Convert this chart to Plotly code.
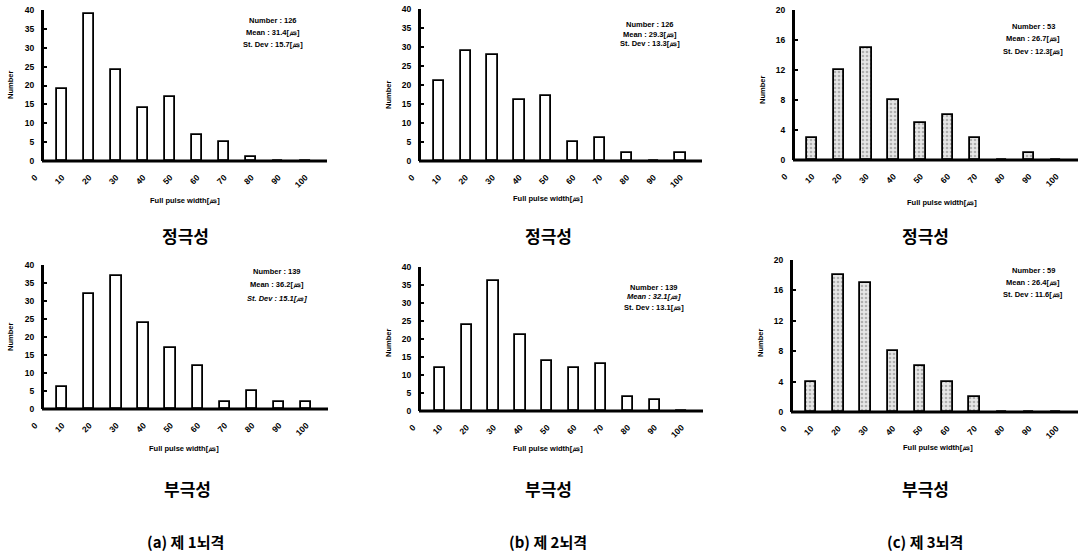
import plotly.graph_objects as go

W, H = 1078, 552

# ---------------- data ----------------
widths = [10, 20, 30, 40, 50, 60, 70, 80, 90, 100]
tick_labels = ["0", "10", "20", "30", "40", "50", "60", "70", "80", "90", "100"]

pos_first = [19, 39, 24, 14, 17, 7, 5, 1, 0, 0]
pos_second = [21, 29, 28, 16, 17, 5, 6, 2, 0, 2]
pos_third = [3, 12, 15, 8, 5, 6, 3, 0, 1, 0]
neg_first = [6, 32, 37, 24, 17, 12, 2, 5, 2, 2]
neg_second = [12, 24, 36, 21, 14, 12, 13, 4, 3, 0]
neg_third = [4, 18, 17, 8, 6, 4, 2, 0, 0, 0]

stats_pos = [
    ["Number : 126", "Mean : 31.4[㎲]", "St. Dev : 15.7[㎲]"],
    ["Number : 126", "Mean : 29.3[㎲]", "St. Dev : 13.3[㎲]"],
    ["Number : 53", "Mean : 26.7[㎲]", "St. Dev : 12.3[㎲]"],
]
stats_neg = [
    ["Number : 139", "Mean : 36.2[㎲]", "<i>St. Dev : 15.1[㎲]</i>"],
    ["Number : 139", "<i>Mean : 32.1[㎲]</i>", "St. Dev : 13.1[㎲]"],
    ["Number : 59", "Mean : 26.4[㎲]", "St. Dev : 11.6[㎲]"],
]
polarity = ["정극성", "부극성"]
captions = ["(a) 제 1뇌격", "(b) 제 2뇌격", "(c) 제 3뇌격"]
x_title = "Full pulse width[㎲]"
y_title = "Number"

# ---------------- layout helpers ----------------
def px(x):
    return x / W

def py(y):
    return 1 - y / H

panels = [
    dict(vals=pos_first, x0=35, x1=327, ax=42, top=10, base=161, ymax=40, dt=5,
         stats=stats_pos[0], sx=273, sy=[20, 32, 44], nx=10, ny=85, tx=185, ty=201, grey=False),
    dict(vals=pos_second, x0=412, x1=702, ax=419, top=9, base=161, ymax=40, dt=5,
         stats=stats_pos[1], sx=650, sy=[25, 34, 43], nx=388, ny=95, tx=548, ty=199, grey=False),
    dict(vals=pos_third, x0=785, x1=1078, ax=793, top=10, base=160, ymax=20, dt=4,
         stats=stats_pos[2], sx=1033, sy=[27, 39, 52], nx=762, ny=90, tx=942, ty=202, grey=True),
    dict(vals=neg_first, x0=35, x1=328, ax=42, top=265, base=409, ymax=40, dt=5,
         stats=stats_neg[0], sx=277, sy=[271, 284, 298], nx=10, ny=337, tx=184, ty=448, grey=False),
    dict(vals=neg_second, x0=413, x1=703, ax=419, top=267, base=411, ymax=40, dt=5,
         stats=stats_neg[1], sx=654, sy=[287, 297, 307], nx=388, ny=343, tx=548, ty=448, grey=False),
    dict(vals=neg_third, x0=784, x1=1078, ax=791, top=260, base=412, ymax=20, dt=4,
         stats=stats_neg[2], sx=1033, sy=[270, 283, 294], nx=760, ny=343, tx=938, ty=447, grey=True),
]

FAM = "Liberation Sans, Arial, sans-serif"
TICKFONT = dict(family=FAM, size=8.5, color="black", weight="bold")
SMALL = dict(family=FAM, size=7.5, color="black", weight="bold")

fig = go.Figure()
layout = dict(width=W, height=H, margin=dict(l=0, r=0, t=0, b=0, pad=0),
              paper_bgcolor="white", plot_bgcolor="white", showlegend=False,
              bargap=0.0)
annotations = []
shapes = []

for i, p in enumerate(panels):
    n = "" if i == 0 else str(i + 1)
    xa, ya = "x" + n, "y" + n
    if p["grey"]:
        marker = dict(color="#dcdcdc", line=dict(color="black", width=1.8),
                      pattern=dict(shape=".", fgcolor="#777777", bgcolor="#e6e6e6",
                                   size=4, solidity=0.35))
    else:
        marker = dict(color="white", line=dict(color="black", width=1.8))
    fig.add_trace(go.Bar(x=widths, y=p["vals"], width=3.8, marker=marker,
                         xaxis=xa, yaxis=ya, hoverinfo="x+y"))
    layout["xaxis" + n] = dict(
        domain=[px(p["x0"]), px(p["x1"])], range=[0, 108], anchor=ya,
        tickvals=[0, 10, 20, 30, 40, 50, 60, 70, 80, 90, 100], ticktext=tick_labels,
        tickangle=-45, tickfont=TICKFONT, ticks="", showline=False,
        showgrid=False, zeroline=False, ticklabelstandoff=9, automargin=False,
    )
    layout["yaxis" + n] = dict(
        domain=[py(p["base"]), py(p["top"])], range=[0, p["ymax"]], anchor="free",
        position=px(p["ax"]),
        dtick=p["dt"], tick0=0, tickfont=TICKFONT, ticks="inside", ticklen=3,
        tickwidth=2, tickcolor="black", showline=True, linewidth=3, linecolor="black",
        showgrid=False, zeroline=False, ticklabelstandoff=5, automargin=False,
    )
    shapes.append(dict(type="line", xref="paper", yref="paper",
                       x0=px(p["ax"]), x1=px(p["x1"]), y0=py(p["base"]), y1=py(p["base"]),
                       line=dict(color="black", width=3)))
    for t, yy in zip(p["stats"], p["sy"]):
        annotations.append(dict(text=t, x=px(p["sx"]), y=py(yy), xref="paper", yref="paper",
                                showarrow=False, font=SMALL, xanchor="center", yanchor="middle"))
    annotations.append(dict(text=y_title, x=px(p["nx"]), y=py(p["ny"]), xref="paper", yref="paper",
                            showarrow=False, textangle=-90, font=SMALL,
                            xanchor="center", yanchor="middle"))
    annotations.append(dict(text=x_title, x=px(p["tx"]), y=py(p["ty"]), xref="paper", yref="paper",
                            showarrow=False, font=SMALL, xanchor="center", yanchor="middle"))

KFONT = dict(family="Noto Sans CJK KR", size=17, color="black", weight="bold")
CFONT = dict(family="Noto Sans CJK KR", size=15, color="black", weight="bold")
for j, cx in enumerate([185, 548, 925]):
    annotations.append(dict(text=polarity[0], x=px(cx), y=py(235), xref="paper",
                            yref="paper", showarrow=False, font=KFONT,
                            xanchor="center", yanchor="middle"))
    annotations.append(dict(text=polarity[1], x=px(cx + 2 if j == 0 else cx), y=py(488),
                            xref="paper", yref="paper", showarrow=False, font=KFONT,
                            xanchor="center", yanchor="middle"))
    annotations.append(dict(text=captions[j], x=px(cx), y=py(541), xref="paper",
                            yref="paper", showarrow=False, font=CFONT,
                            xanchor="center", yanchor="middle"))

layout["annotations"] = annotations
layout["shapes"] = shapes
fig.update_layout(**layout)
fig.write_html("out.html", config={"displayModeBar": False},
               post_script="document.body.style.margin='0';document.body.style.padding='0';")
